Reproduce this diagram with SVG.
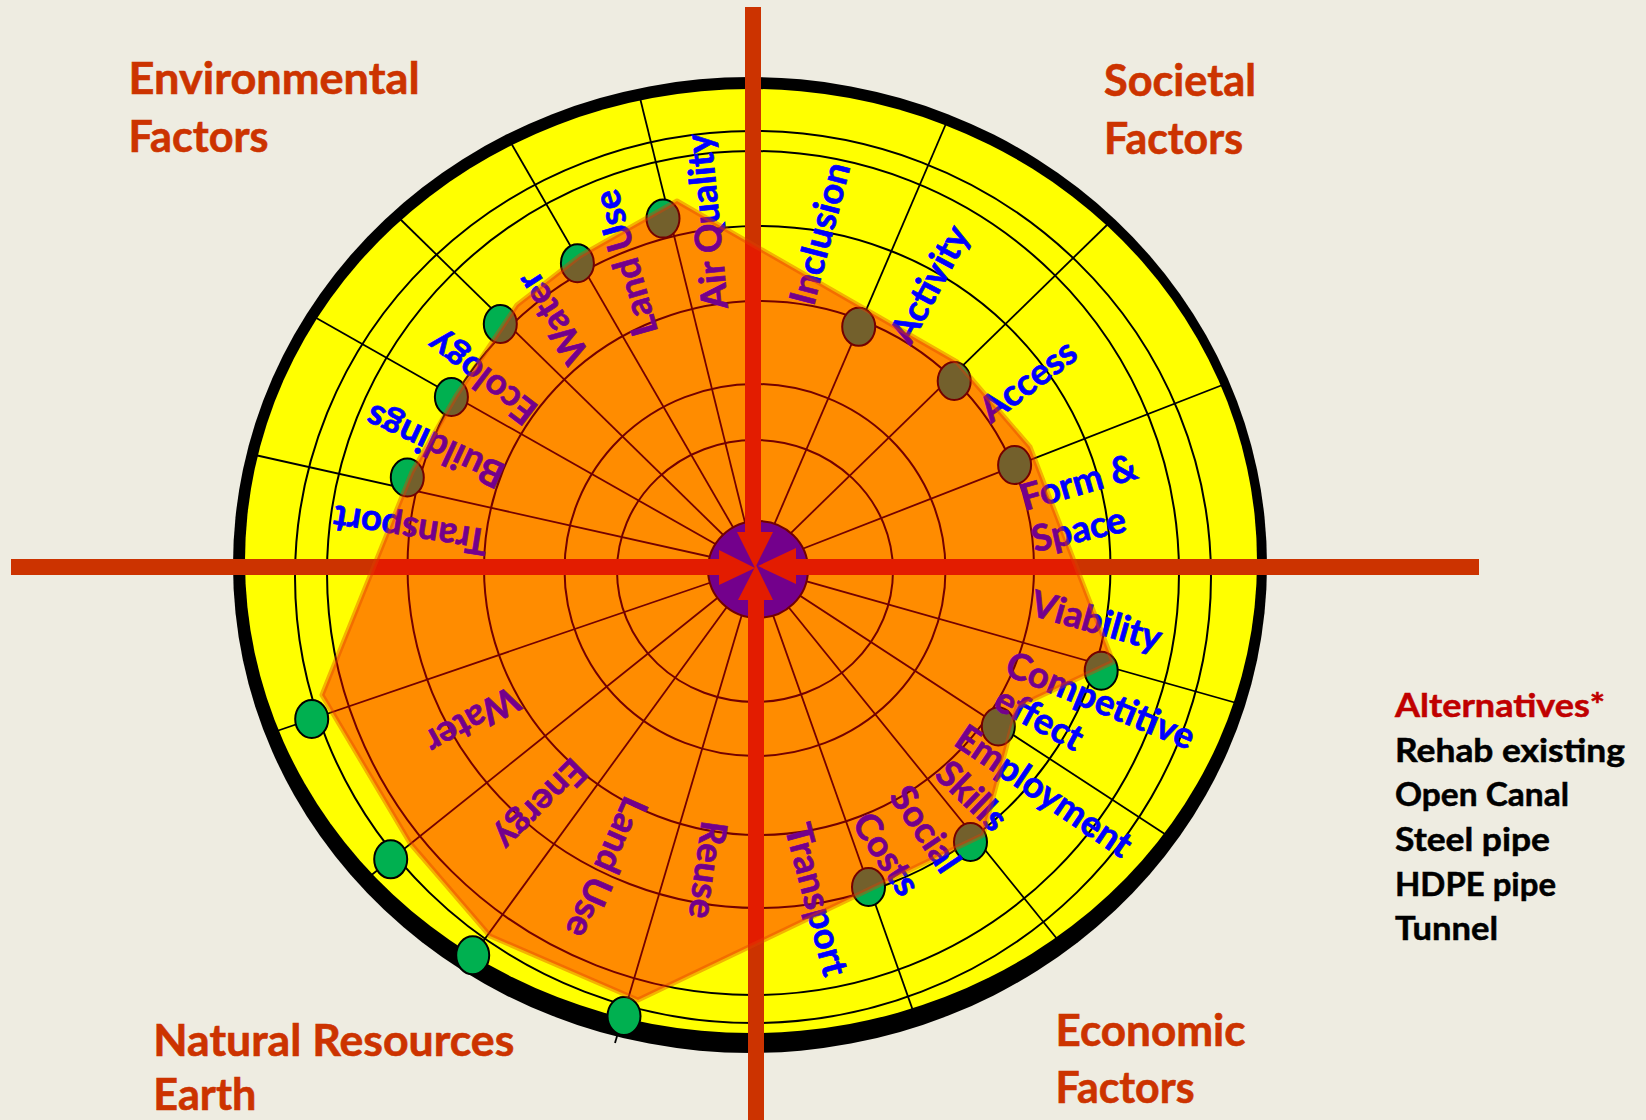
<svg xmlns="http://www.w3.org/2000/svg" width="1646" height="1120" viewBox="0 0 1646 1120">
<defs>
<style>
.ring{fill:none;stroke:#000;stroke-width:2}
.spoke{stroke:#000;stroke-width:1.8;fill:none}
.dot{fill:#00B050;stroke:#000;stroke-width:2}
.lbl{font-family:Lato,'Liberation Sans',sans-serif;font-weight:bold;font-size:36.5px;fill:#0000FF;stroke:#0000FF;stroke-width:0.7}
.title{font-family:Lato,'Liberation Sans',sans-serif;font-weight:bold;font-size:43px;fill:#CC3300;stroke:#CC3300;stroke-width:0.6}
.leg{font-family:Lato,'Liberation Sans',sans-serif;font-weight:bold;font-size:32px;fill:#000;stroke:#000;stroke-width:0.5}
.axis{fill:#CC3300}
</style>
</defs>
<rect width="1646" height="1120" fill="#EEECE1"/>
<g id="wheel">
<ellipse cx="750" cy="565" rx="517" ry="488" fill="#000"/>
<ellipse cx="751" cy="561" rx="506" ry="472" fill="#FFFF00"/>
<ellipse class="ring" cx="753" cy="577" rx="458" ry="446"/>
<ellipse class="ring" cx="753" cy="573" rx="426" ry="422"/>
<ellipse class="ring" cx="759" cy="567" rx="351.5" ry="341"/>
<ellipse class="ring" cx="759" cy="568" rx="275" ry="267"/>
<ellipse class="ring" cx="755" cy="570" rx="190.5" ry="186"/>
<ellipse class="ring" cx="755" cy="571" rx="138" ry="131"/>
</g>
<g id="connectors">
<line class="spoke" x1="756" y1="567" x2="640" y2="98"/>
<line class="spoke" x1="756" y1="567" x2="511" y2="143"/>
<line class="spoke" x1="756" y1="567" x2="397" y2="216"/>
<line class="spoke" x1="756" y1="567" x2="311" y2="315"/>
<line class="spoke" x1="756" y1="567" x2="255" y2="455"/>
<line class="spoke" x1="756" y1="567" x2="948" y2="119"/>
<line class="spoke" x1="756" y1="567" x2="1108" y2="224"/>
<line class="spoke" x1="756" y1="567" x2="1225" y2="384"/>
<line class="spoke" x1="756" y1="567" x2="1240" y2="704"/>
<line class="spoke" x1="756" y1="567" x2="1174" y2="840"/>
<line class="spoke" x1="756" y1="567" x2="1062" y2="945"/>
<line class="spoke" x1="756" y1="567" x2="917" y2="1022"/>
<line class="spoke" x1="756" y1="567" x2="271" y2="733"/>
<line class="spoke" x1="756" y1="567" x2="364" y2="881"/>
<line class="spoke" x1="756" y1="567" x2="468" y2="962"/>
<line class="spoke" x1="756" y1="567" x2="615" y2="1043"/>
</g>
<g id="hub"><ellipse cx="758" cy="569.5" rx="50" ry="48.5" fill="#0000FF" stroke="#000" stroke-width="2"/></g>
<g id="axes" class="axis">
<g id="axis-left"><rect x="11" y="559" width="709" height="16"/><polygon points="719,550 719,585 755,568"/></g>
<g id="axis-right"><rect x="795" y="559" width="684" height="16"/><polygon points="796,548 796,584 758,566"/></g>
<g id="axis-top"><rect x="745" y="7" width="16" height="526"/><polygon points="737,532 773,532 755,568"/></g>
<g id="axis-bottom"><rect x="748" y="599" width="16" height="521"/><polygon points="738,600 773,600 756,565"/></g>
</g>
<g id="dots">
<g id="dot-air-quality"><ellipse class="dot" cx="663" cy="218.6" rx="16.5" ry="19"/></g>
<g id="dot-land-use"><ellipse class="dot" cx="577.4" cy="263.2" rx="16.5" ry="19"/></g>
<g id="dot-water"><ellipse class="dot" cx="500.3" cy="324" rx="16.5" ry="19"/></g>
<g id="dot-ecology"><ellipse class="dot" cx="451.4" cy="397" rx="16.5" ry="19"/></g>
<g id="dot-buildings"><ellipse class="dot" cx="407.3" cy="477.5" rx="16.5" ry="19"/></g>
<g id="dot-inclusion"><ellipse class="dot" cx="858.7" cy="326.8" rx="16.5" ry="19"/></g>
<g id="dot-activity"><ellipse class="dot" cx="954.2" cy="381" rx="16.5" ry="19"/></g>
<g id="dot-access"><ellipse class="dot" cx="1014.6" cy="465" rx="16.5" ry="19"/></g>
<g id="dot-viability"><ellipse class="dot" cx="1101.2" cy="670.7" rx="16.5" ry="19"/></g>
<g id="dot-competitive"><ellipse class="dot" cx="998.3" cy="726.5" rx="16.5" ry="19"/></g>
<g id="dot-employment"><ellipse class="dot" cx="970.5" cy="842" rx="16.5" ry="19"/></g>
<g id="dot-costs"><ellipse class="dot" cx="868.5" cy="887" rx="16.5" ry="19"/></g>
<g id="dot-nr-water"><ellipse class="dot" cx="311.7" cy="719" rx="16.5" ry="19"/></g>
<g id="dot-energy"><ellipse class="dot" cx="390.7" cy="859.3" rx="16.5" ry="19"/></g>
<g id="dot-nr-land-use"><ellipse class="dot" cx="472.7" cy="955.3" rx="16.5" ry="19"/></g>
<g id="dot-reuse"><ellipse class="dot" cx="624" cy="1016" rx="16.5" ry="19"/></g>
</g>
<g id="labels" text-anchor="middle">
<text class="lbl" transform="translate(708.6,221.4) rotate(-95.6)" dy="0.3em">Air Quality</text>
<text class="lbl" transform="translate(627.3,262.5) rotate(-105.9)" dy="0.3em">Land Use</text>
<text class="lbl" transform="translate(554,317) rotate(-122.4)" dy="0.3em">Water</text>
<text class="lbl" transform="translate(483,376.8) rotate(-142.7)" dy="0.3em">Ecology</text>
<text class="lbl" transform="translate(435.7,444.6) rotate(-155.1)" dy="0.3em">Buildings</text>
<text class="lbl" transform="translate(410.7,528.6) rotate(-170.9)" dy="0.3em">Transport</text>
<text class="lbl" transform="translate(821.5,234) rotate(-75.3)" dy="0.3em">Inclusion</text>
<text class="lbl" transform="translate(931,285) rotate(-62)" dy="0.3em">Activity</text>
<text class="lbl" transform="translate(1029,382) rotate(-36.9)" dy="0.3em">Access</text>
<text class="lbl" transform="translate(1079,484) rotate(-16.1)" dy="0.3em">Form &amp;</text>
<text class="lbl" transform="translate(1079,531) rotate(-12.8)" dy="0.3em">Space</text>
<text class="lbl" transform="translate(1096,622.5) rotate(15.8)" dy="0.3em">Viability</text>
<text class="lbl" transform="translate(1100,702) rotate(22.3)" dy="0.3em">Competitive</text>
<text class="lbl" transform="translate(1038.5,720) rotate(28)" dy="0.3em">effect</text>
<text class="lbl" transform="translate(1043,792.5) rotate(34.1)" dy="0.3em">Employment</text>
<text class="lbl" transform="translate(970.7,797) rotate(44)" dy="0.3em">Skills</text>
<text class="lbl" transform="translate(924,830) rotate(56)" dy="0.3em">Social</text>
<text class="lbl" transform="translate(885,855) rotate(56.5)" dy="0.3em">Costs</text>
<text class="lbl" transform="translate(815,900) rotate(75.2)" dy="0.3em">Transport</text>
<text class="lbl" transform="translate(471.7,719.2) rotate(151.3)" dy="0.3em">Water</text>
<text class="lbl" transform="translate(540,803.3) rotate(135)" dy="0.3em">Energy</text>
<text class="lbl" transform="translate(605,866.7) rotate(113.8)" dy="0.3em">Land Use</text>
<text class="lbl" transform="translate(706,869.8) rotate(97.8)" dy="0.3em">Reuse</text>
</g>
<g id="score">
<polygon points="677,201 957,362 1030,447 1113,662 1017,707 983,835 638,1000 490,936 410,843 322,695 412,472 456,396 517,305 580,256" fill="#FF0000" fill-opacity="0.45" stroke="#E04000" stroke-opacity="0.4" stroke-width="5" stroke-linejoin="round"/>
</g>
<g id="titles" class="title">
<text x="128.6" y="93.6" textLength="291" lengthAdjust="spacingAndGlyphs">Environmental</text>
<text x="128.6" y="151.8" textLength="140" lengthAdjust="spacingAndGlyphs">Factors</text>
<text x="1104" y="95.7" textLength="152" lengthAdjust="spacingAndGlyphs">Societal</text>
<text x="1104" y="153.6" textLength="139" lengthAdjust="spacingAndGlyphs">Factors</text>
<text x="153.3" y="1056.4" textLength="361" lengthAdjust="spacingAndGlyphs">Natural Resources</text>
<text x="153.3" y="1110" textLength="103" lengthAdjust="spacingAndGlyphs">Earth</text>
<text x="1055.5" y="1045.7" textLength="190" lengthAdjust="spacingAndGlyphs">Economic</text>
<text x="1055.5" y="1102.9" textLength="139" lengthAdjust="spacingAndGlyphs">Factors</text>
</g>
<g id="legend" class="leg">
<text x="1395" y="717" fill="#C00000" stroke="#C00000" textLength="210" lengthAdjust="spacingAndGlyphs">Alternatives*</text>
<text x="1395" y="761.8" textLength="230" lengthAdjust="spacingAndGlyphs">Rehab existing</text>
<text x="1395" y="806.4" textLength="174" lengthAdjust="spacingAndGlyphs">Open Canal</text>
<text x="1395" y="851" textLength="155" lengthAdjust="spacingAndGlyphs">Steel pipe</text>
<text x="1395" y="895.7" textLength="161" lengthAdjust="spacingAndGlyphs">HDPE pipe</text>
<text x="1395" y="940.4" textLength="103" lengthAdjust="spacingAndGlyphs">Tunnel</text>
</g>
</svg>
